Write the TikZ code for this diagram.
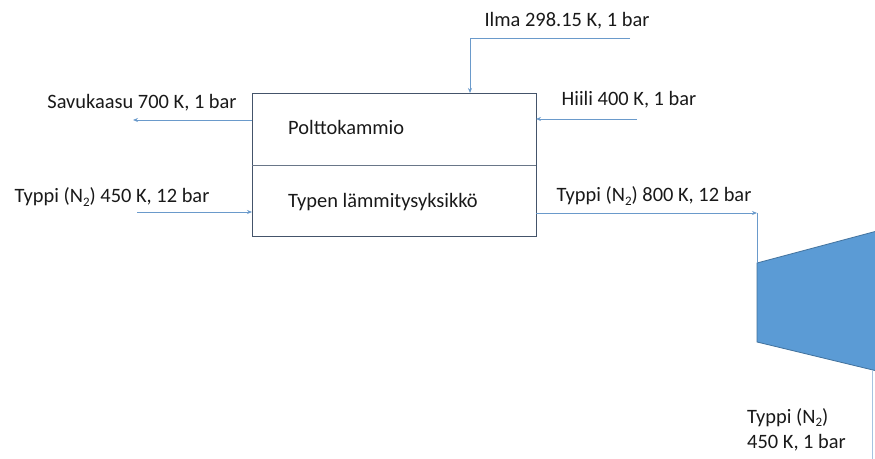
\documentclass[tikz,border=0pt]{standalone}
\usepackage{fontspec}
\setmainfont{Carlito}
\usetikzlibrary{arrows.meta}
\definecolor{flow}{HTML}{6A9ACB}
\definecolor{boxline}{HTML}{44546A}
\definecolor{turbfill}{HTML}{5B9BD5}
\definecolor{turbline}{HTML}{41719C}
\newcommand{\lowsub}[1]{\raisebox{-0.35ex}{\fontsize{13}{14}\selectfont #1}}
\tikzset{
  flowline/.style={draw=flow, line width=0.8bp},
  flowarrow/.style={flowline, -{Stealth[length=5bp,width=4bp]}},
  lbl/.style={inner sep=0pt, anchor=base, font=\fontsize{20.5}{24}\selectfont, text=black!90},
}
\begin{document}
\begin{tikzpicture}[x=1bp,y=-1bp]
\useasboundingbox (0,0) rectangle (875,459);
% main box
\node[draw=boxline, line width=0.9bp, minimum width=284bp, minimum height=143bp, inner sep=0pt, anchor=north west] (box) at (252,93) {};
\coordinate (divL) at (252,165);
\coordinate (divR) at (536,165);
\draw[draw=boxline!80, line width=0.7bp] (divL) -- (divR);
\node[lbl, anchor=base west] (poltto) at (288,135) {Polttokammio};
\node[lbl, anchor=base west] (typen) at (288,208) {Typen lämmitysyksikkö};
% Ilma
\node[lbl] (ilmaT) at (567,27) {Ilma 298.15 K, 1 bar};
\coordinate (ilmaS) at (630,38);
\coordinate (ilmaK) at (470,38);
\coordinate (ilmaE) at (470,93);
\draw[flowarrow] (ilmaS) -- (ilmaK) -- (ilmaE);
% Hiili
\node[lbl] (hiiliT) at (629,106) {Hiili 400 K, 1 bar};
\coordinate (hiiliS) at (637,119);
\coordinate (hiiliE) at (536,119);
\draw[flowarrow] (hiiliS) -- (hiiliE);
% Savukaasu
\node[lbl] (savuT) at (142,109) {Savukaasu 700 K, 1 bar};
\coordinate (savuS) at (252,120);
\coordinate (savuE) at (133,120);
\draw[flowarrow] (savuS) -- (savuE);
% Typpi in
\node[lbl] (tinT) at (112,203) {Typpi (N\lowsub{2}) 450 K, 12 bar};
\coordinate (tinS) at (137,212);
\coordinate (tinE) at (252,212);
\draw[flowarrow] (tinS) -- (tinE);
% Typpi out
\node[lbl] (toutT) at (654,202) {Typpi (N\lowsub{2}) 800 K, 12 bar};
\coordinate (toutS) at (536,213);
\coordinate (toutE) at (757,213);
\draw[flowarrow] (toutS) -- (toutE);
% turbine
\coordinate (t1) at (757,263);
\coordinate (t2) at (877,231);
\coordinate (t3) at (877,371);
\coordinate (t4) at (757,342);
\draw[fill=turbfill, draw=turbline, line width=0.8bp] (t1) -- (t2) -- (t3) -- (t4) -- cycle;
\draw[flowline] (toutE) -- (t1);
\coordinate (outS) at (872,370);
\coordinate (outE) at (872,462);
\draw[draw=flow!60, line width=0.6bp] (outS) -- (outE);
\node[lbl, anchor=base west] (toT1) at (747,423) {Typpi (N\lowsub{2})};
\node[lbl, anchor=base west] (toT2) at (747,448) {450 K, 1 bar};
\end{tikzpicture}
\end{document}
